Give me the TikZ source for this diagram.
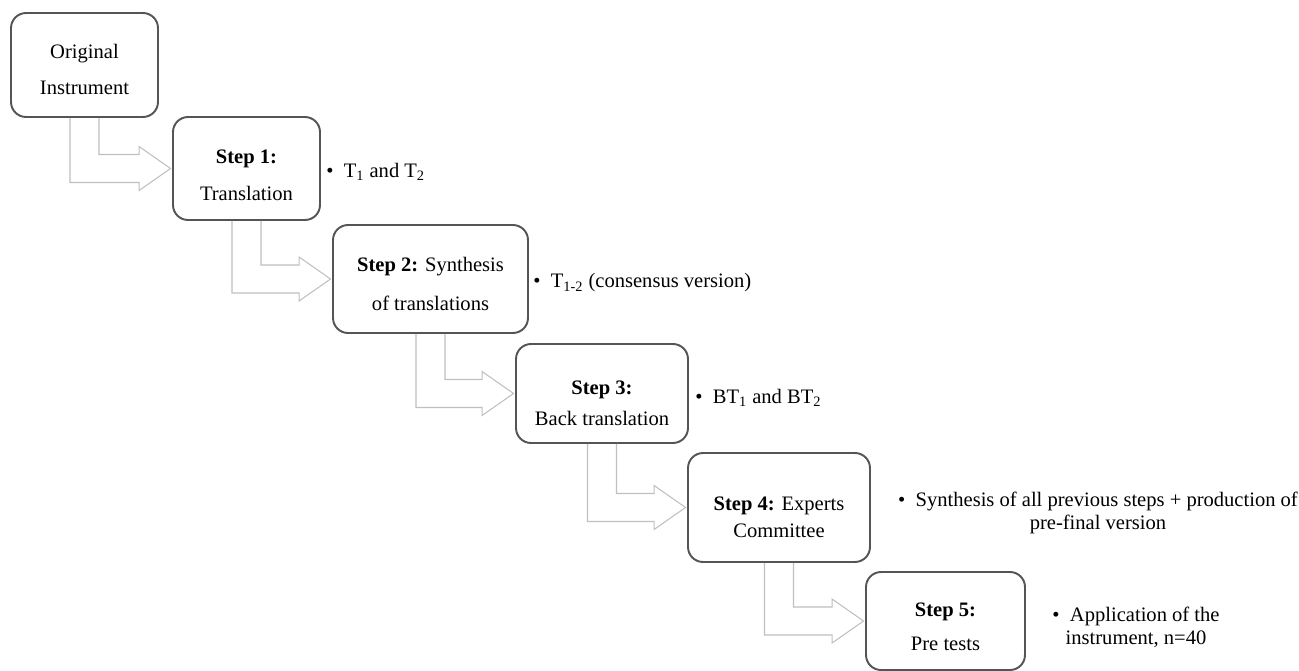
\documentclass[tikz,border=0pt]{standalone}
\usepackage{fontspec}
\setmainfont{Liberation Serif}
\usetikzlibrary{calc}
\definecolor{boxgray}{HTML}{555555}
\definecolor{arrowgray}{HTML}{BFBFBF}
\newcommand{\topstrut}[1]{\rule{0pt}{#1}}
\tikzset{
  stepbox/.style={shape=rectangle,rounded corners=0.3cm,draw=boxgray,line width=1.1pt,fill=white,align=center,inner sep=0pt},
  bentline/.style={draw=arrowgray,line width=0.6pt,line join=miter},
  note/.style={inner sep=0pt,align=center,font=\fontsize{11.7pt}{13pt}\selectfont}
}
% hollow bent arrow from the bottom of one box to the left side of the next
\newcommand{\bentarrow}[2]{%
  \draw[bentline] ($(#1.south)+(-14.5,0)$) |- ($(#2.west)+(-33,14)$) -- ++(0,8)
    -- ($(#2.west)+(-1.5,0)$) -- ($(#2.west)+(-33,-22)$) -- ++(0,8) -| ($(#1.south)+(14.5,0)$);}
\begin{document}
\begin{tikzpicture}[x=0.02cm,y=-0.02cm,font=\fontsize{11.7pt}{14pt}\selectfont]
              \useasboundingbox (0,0) rectangle (1299,670);

              \node[stepbox,minimum width=2.94cm,minimum height=2.08cm] (0) at (84.5,65) {\topstrut{13.7pt}Original\\[6.5pt]Instrument};
              \node[stepbox,minimum width=2.94cm,minimum height=2.06cm] (1) at (246.5,168.5) {\topstrut{15pt}\textbf{Step 1:}\\[7pt]Translation};
              \node[stepbox,minimum width=3.9cm,minimum height=2.16cm] (2) at (430.5,279) {\topstrut{14pt}\textbf{Step 2:} Synthesis\\[8pt]of translations};
              \node[stepbox,minimum width=3.44cm,minimum height=1.98cm] (3) at (602,393.5) {\topstrut{18.8pt}\textbf{Step 3:}\\[3.5pt]Back translation};
              \node[stepbox,minimum width=3.64cm,minimum height=2.18cm] (4) at (779,507.5) {\topstrut{19pt}\textbf{Step 4:} Experts\\[1.5pt]Committee};
              \node[stepbox,minimum width=3.18cm,minimum height=1.96cm] (5) at (945.5,621) {\topstrut{14.2pt}\textbf{Step 5:}\\[5.5pt]Pre tests};

              \bentarrow{0}{1}
              \bentarrow{1}{2}
              \bentarrow{2}{3}
              \bentarrow{3}{4}
              \bentarrow{4}{5}

              \node[note,anchor=west] (n1) at (326,172) {•\enspace T\textsubscript{1} and T\textsubscript{2}};
              \node[note,anchor=west] (n2) at (533,283) {•\enspace T\textsubscript{1-2} (consensus version)};
              \node[note,anchor=west] (n3) at (695,398) {•\enspace BT\textsubscript{1} and BT\textsubscript{2}};
              \node[note] (n4) at (1098,513) {•\enspace Synthesis of all previous steps + production of\\pre-final version};
              \node[note] (n5) at (1136,627) {•\enspace Application of the\\instrument, n=40};
          \end{tikzpicture}
\end{document}
